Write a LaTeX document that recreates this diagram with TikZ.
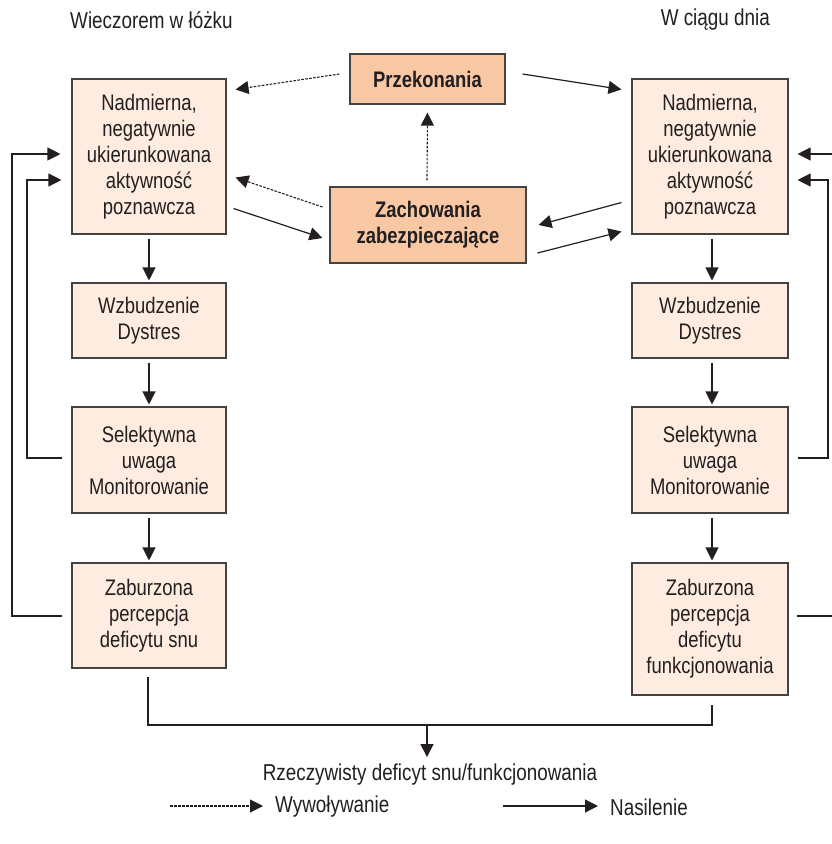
\documentclass[tikz,border=0pt]{standalone}
\usepackage{fontspec}
\setmainfont{Liberation Sans}[FakeStretch=0.82]
\usetikzlibrary{arrows.meta,calc}
\definecolor{lightbox}{HTML}{FDECDF}
\definecolor{darkbox}{HTML}{F8C8A4}
\definecolor{ink}{HTML}{231F20}
\tikzset{
  box/.style={draw=ink!85, line width=1.1pt, fill=lightbox, align=center, inner sep=0pt, text=ink,
    font=\fontsize{22.5}{26}\selectfont, minimum width=154pt},
  cbox/.style={box, fill=darkbox, font=\fontsize{22.5}{26}\selectfont\bfseries},
  tip/.style={-{Triangle[length=13pt,width=13pt]}},
  solidarr/.style={tip, draw=ink, line width=1.2pt},
  dasharr/.style={tip, draw=ink, line width=1.1pt, dash pattern=on 2.6pt off 1.4pt},
  lbl/.style={text=ink, font=\fontsize{23}{26}\selectfont, inner sep=0pt},
  fb/.style={draw=ink, line width=1.1pt}
}
\begin{document}
\begin{tikzpicture}[x=1pt,y=-1pt]
\useasboundingbox (0,0) rectangle (831,844);
% titles
\node[lbl, anchor=west] (t1) at (70,20) {Wieczorem w łóżku};
\node[lbl, anchor=east] (t2) at (770,20) {W ciągu dnia};
% left column
\node[box, minimum height=155pt] (L1) at (149,156.5) {Nadmierna,\\negatywnie\\ukierunkowana\\aktywność\\poznawcza};
\node[box, minimum height=75pt] (L2) at (149,320.5) {Wzbudzenie\\Dystres};
\node[box, minimum height=106pt] (L3) at (149,460) {Selektywna\\uwaga\\Monitorowanie};
\node[box, minimum height=105pt] (L4) at (149,615.5) {Zaburzona\\percepcja\\deficytu snu};
% right column
\node[box, minimum width=156pt, minimum height=155pt] (R1) at (710,156.5) {Nadmierna,\\negatywnie\\ukierunkowana\\aktywność\\poznawcza};
\node[box, minimum width=156pt, minimum height=75pt] (R2) at (710,320.5) {Wzbudzenie\\Dystres};
\node[box, minimum width=156pt, minimum height=106pt] (R3) at (710,460) {Selektywna\\uwaga\\Monitorowanie};
\node[box, minimum width=156pt, minimum height=132pt] (R4) at (710,629) {Zaburzona\\percepcja\\deficytu\\funkcjonowania};
% center
\node[cbox, minimum width=155pt, minimum height=50pt] (P) at (427.5,79) {Przekonania};
\node[cbox, minimum width=196pt, minimum height=76pt] (Z) at (428,225) {Zachowania\\zabezpieczające};
% center arrows
\draw[dasharr] ($(P.west)+(-10,-5)$) -- ($(L1.north east)+(9,11)$);
\draw[solidarr] ($(P.east)+(17,-5)$) -- ($(R1.north west)+(-10,11)$);
\draw[dasharr] ($(Z.north)+(-1,-6)$) -- ($(P.south)+(0,8)$);
\draw[dasharr] ($(Z.west)+(-7,-18)$) -- ($(L1.east)+(9,21)$);
\draw[solidarr] ($(L1.east)+(7,52)$) -- ($(Z.west)+(-7,13)$);
\draw[solidarr] ($(R1.west)+(-10,46)$) -- ($(Z.east)+(12,0)$);
\draw[solidarr] ($(Z.east)+(11,28)$) -- ($(R1.west)+(-10,75)$);
% vertical arrows
\draw[solidarr] ($(L1.south)+(0,4)$) -- ($(L2.north)+(0,-2)$);
\draw[solidarr] ($(L2.south)+(0,4)$) -- ($(L3.north)+(0,-2)$);
\draw[solidarr] ($(L3.south)+(0,4)$) -- ($(L4.north)+(0,-2)$);
\draw[solidarr] ($(R1.south)+(2,4)$) -- ($(R2.north)+(2,-2)$);
\draw[solidarr] ($(R2.south)+(2,4)$) -- ($(R3.north)+(2,-2)$);
\draw[solidarr] ($(R3.south)+(2,4)$) -- ($(R4.north)+(2,-2)$);
% left feedback
\draw[fb, tip] ($(L4.west)+(-9,0.5)$) -- (12,616) |- ($(L1.west)+(-11,-2.5)$);
\draw[fb, tip] ($(L3.west)+(-9,-2)$) -- (27,458) |- ($(L1.west)+(-10,23.5)$);
% right feedback
\coordinate (redge1) at (832,154);
\coordinate (redge2) at (832,616);
\draw[fb, tip] (redge1) -- ($(R1.east)+(9,-2.5)$);
\draw[fb] ($(R4.east)+(8,-13)$) -- (redge2);
\draw[fb, tip] ($(R3.east)+(9,-2)$) -- (828,458) |- ($(R1.east)+(9,23.5)$);
% bottom
\coordinate (mid) at (427,725);
\node[lbl] (D) at (430,775) {Rzeczywisty deficyt snu/funkcjonowania};
\draw[fb] ($(L4.south)+(-1,8)$) |- (mid) -| ($(R4.south)+(2,9)$);
\draw[solidarr] (mid) -- ($(D.north)+(-3,-7)$);
% legend
\node[lbl, anchor=west] (W) at (275,807) {Wywoływanie};
\node[lbl, anchor=west] (N) at (610,807) {Nasilenie};
\draw[dasharr] ($(W.west)+(-105,-1)$) -- ($(W.west)+(-12,-1)$);
\draw[solidarr] ($(N.west)+(-107,-1)$) -- ($(N.west)+(-12,-1)$);
\end{tikzpicture}
\end{document}
